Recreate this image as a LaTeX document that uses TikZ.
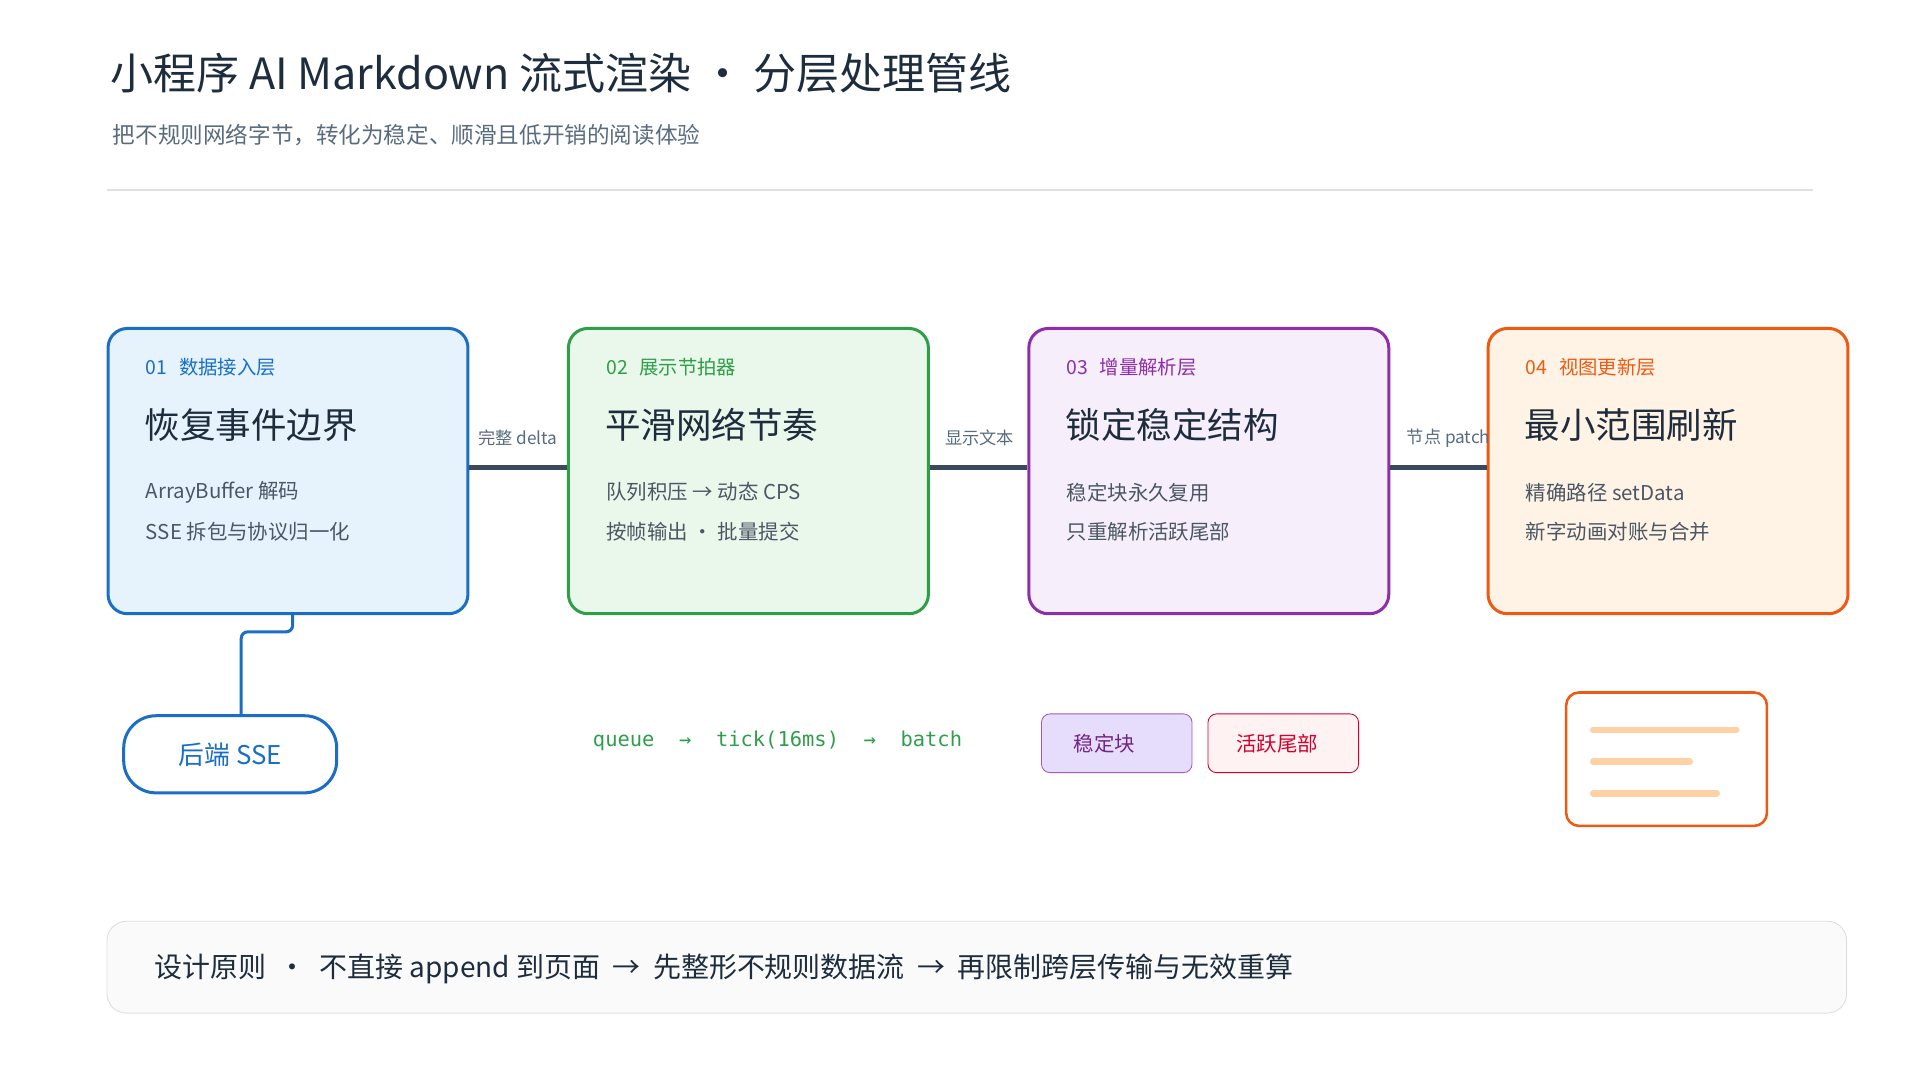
\documentclass[tikz,border=0pt]{standalone}
\usepackage{fontspec}
\setmainfont{Noto Sans CJK SC}
\setsansfont{Noto Sans CJK SC}
\setmonofont{DejaVu Sans Mono}
\usetikzlibrary{positioning}
\definecolor{ink}{HTML}{1E2D3D}
\definecolor{muted}{HTML}{5A6B7E}
\definecolor{link}{HTML}{3A4A5C}
\definecolor{blueL}{HTML}{1A6FC4}\definecolor{blueF}{HTML}{E6F3FD}
\definecolor{greenL}{HTML}{2E9E48}\definecolor{greenF}{HTML}{EAF8EC}
\definecolor{purpL}{HTML}{8E2EA8}\definecolor{purpF}{HTML}{F6EEFB}
\definecolor{orL}{HTML}{EE5A12}\definecolor{orF}{HTML}{FFF3E6}
\definecolor{chipF}{HTML}{E6DCFB}
\tikzset{
  layer/.style={draw=#1L, fill=#1F, line width=1.4pt, rounded corners=9pt,
    minimum width=5.88cm, minimum height=4.66cm, anchor=north west},
  tag/.style={anchor=west, font=\fontsize{9}{10}\selectfont},
  head/.style={anchor=west, text=ink, font=\fontsize{16.5}{18}\selectfont},
  line/.style={anchor=west, text=ink!80, font=\fontsize{9.5}{11}\selectfont},
  pipe/.style={link, line width=2.2pt},
  pipelabel/.style={text=muted, font=\fontsize{8}{9}\selectfont},
}
\begin{document}
\begin{tikzpicture}[x=0.02cm, y=-0.02cm]
\useasboundingbox (0,0) rectangle (1568,882);
% title block
\node[anchor=west, text=ink, font=\fontsize{20}{24}\selectfont] (title) at (84,60) {小程序 AI Markdown 流式渲染 · 分层处理管线};
\node[anchor=west, text=muted, font=\fontsize{10.5}{12}\selectfont] (subtitle) at (86,110) {把不规则网络字节，转化为稳定、顺滑且低开销的阅读体验};
\draw[black!12, line width=0.8pt] (87,155) -- (1481,155);
% layers
\node[layer=blue] (l1) at (87,267) {};
\node[layer=green] (l2) at (463,267) {};
\node[layer=purp] (l3) at (839,267) {};
\node[layer=or] (l4) at (1214,267) {};
\foreach \b/\c/\n/\t/\h/\a/\bb in {
  l1/blueL/01/数据接入层/恢复事件边界/ArrayBuffer 解码/SSE 拆包与协议归一化,
  l2/greenL/02/展示节拍器/平滑网络节奏/队列积压 → 动态 CPS/按帧输出 · 批量提交,
  l3/purpL/03/增量解析层/锁定稳定结构/稳定块永久复用/只重解析活跃尾部,
  l4/orL/04/视图更新层/最小范围刷新/精确路径 setData/新字动画对账与合并}{
  \node[tag, text=\c] at ([xshift=0.52cm, yshift=-0.66cm]\b.north west) {\n\hspace{0.6em}\t};
  \node[head] at ([xshift=0.5cm, yshift=-1.6cm]\b.north west) {\h};
  \node[line] at ([xshift=0.52cm, yshift=-2.7cm]\b.north west) {\a};
  \node[line] at ([xshift=0.52cm, yshift=-3.34cm]\b.north west) {\bb};
}
% pipes between layers
\draw[pipe] (l1.east |- 0,382) -- (l2.west |- 0,382);
\draw[pipe] (l2.east |- 0,382) -- (l3.west |- 0,382);
\draw[pipe] (l3.east |- 0,382) -- (l4.west |- 0,382);
\node[pipelabel] at (423,358) {完整 delta};
\node[pipelabel] at (800,358) {显示文本};
\node[pipelabel] at (1183,358) {节点 patch};
% source
\node[draw=blueL, fill=white, line width=1.4pt, rounded corners=15pt, minimum width=3.48cm, minimum height=1.26cm,
  text=blueL, font=\fontsize{12}{14}\selectfont] (sse) at (188,616) {后端 SSE\hspace{0.3em}};
\draw[blueL, line width=1.4pt, rounded corners=3pt] (l1.south -| 239,0) -- (239,516) -- (197,516) -- (197,585);
% metronome hint
\node[text=greenL, font=\ttfamily\fontsize{9.5}{11}\selectfont] (tick) at (635,605) {queue \ → \ tick(16ms) \ → \ batch};
% parser chips
\node[draw=purpL!80, fill=chipF, rounded corners=4pt, minimum width=2.46cm, minimum height=0.96cm,
  text=purpL!80!black, font=\fontsize{9.5}{11}\selectfont] (stable) at (912,607) {\hspace{-1.2em}稳定块};
\node[draw=purple!70!red, fill=red!5, rounded corners=4pt, minimum width=2.46cm, minimum height=0.96cm,
  text=purple!70!red, font=\fontsize{9.5}{11}\selectfont] (tail) at (1048,607) {\hspace{-0.6em}活跃尾部};
% view card
\node[draw=orL, fill=white, line width=1.2pt, rounded corners=6pt, minimum width=3.28cm, minimum height=2.18cm] (card) at (1361,620) {};
\draw[orange!35, line width=3pt, line cap=round] (1301,596) -- (1418,596);
\draw[orange!35, line width=3pt, line cap=round] (1301,622) -- (1380,622);
\draw[orange!35, line width=3pt, line cap=round] (1301,648) -- (1402,648);
% principle bar
\node[draw=black!13, fill=black!2, rounded corners=9pt, minimum width=28.42cm, minimum height=1.5cm, anchor=north west] (bar) at (87,752) {};
\node[anchor=west, text=ink, font=\fontsize{13}{15}\selectfont] (rule) at (120,791)
  {设计原则 \ · \ 不直接 append 到页面 \ → \ 先整形不规则数据流 \ → \ 再限制跨层传输与无效重算};
\end{tikzpicture}
\end{document}
